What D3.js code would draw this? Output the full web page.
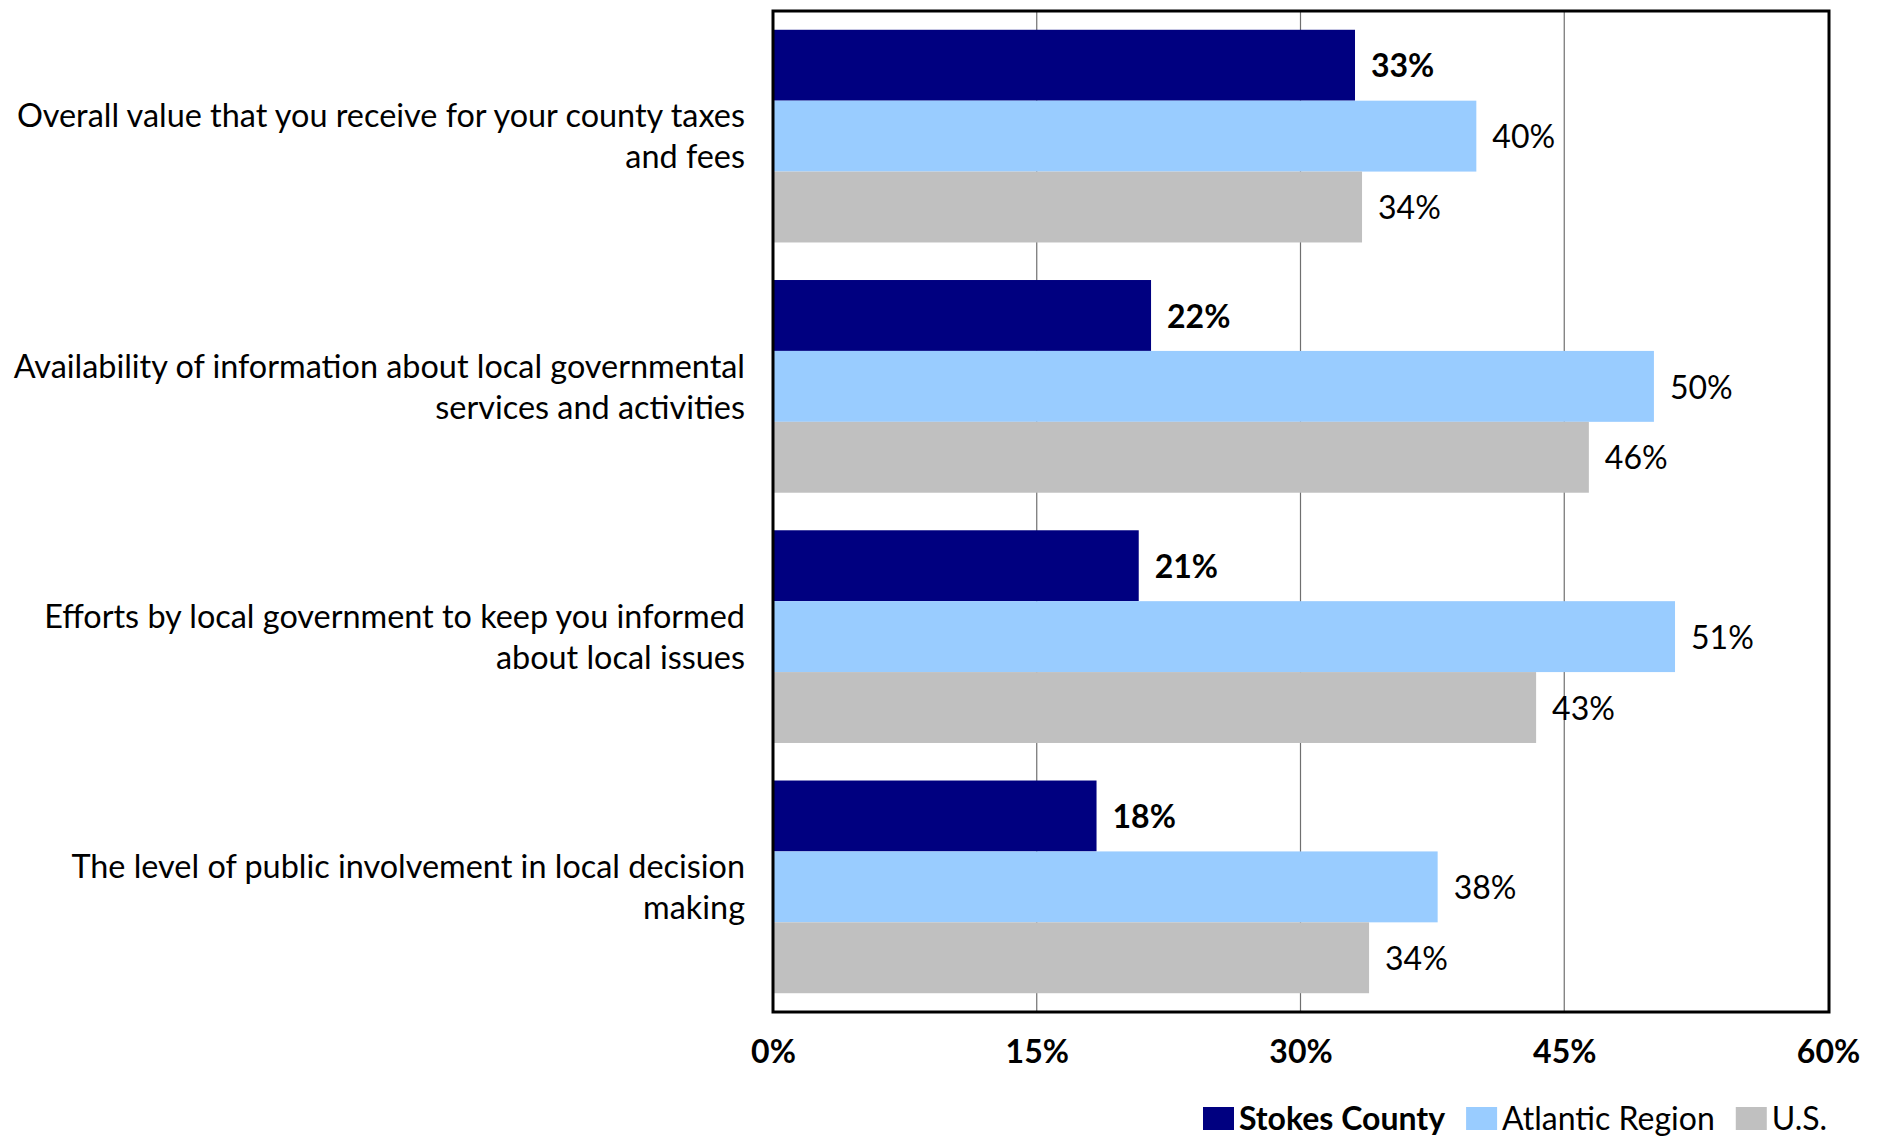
<!DOCTYPE html>
<html>
<head>
<meta charset="utf-8">
<script src="https://cdn.jsdelivr.net/npm/d3@7/dist/d3.min.js"></script>
<style>
  html, body { margin: 0; padding: 0; background: #fff; }
  svg { display: block; }
  text { font-family: Lato, "Open Sans", sans-serif; fill: #000; }
</style>
</head>
<body>
<svg id="chart" width="1885" height="1137"></svg>
<script>
// ---- data ----
const categories = [
  ["Overall value that you receive for your county taxes", "and fees"],
  ["Availability of information about local governmental", "services and activities"],
  ["Efforts by local government to keep you informed", "about local issues"],
  ["The level of public involvement in local decision", "making"]
];
const seriesNames = ["Stokes County", "Atlantic Region", "U.S."];
const stokesCounty = [33.1, 21.5, 20.8, 18.4];
const atlanticRegion = [40.0, 50.1, 51.3, 37.8];
const us = [33.5, 46.4, 43.4, 33.9];
const seriesValues = [stokesCounty, atlanticRegion, us];
const xTicks = [0, 15, 30, 45, 60];
const colors = ["#000080", "#99CCFF", "#C0C0C0"];

// ---- layout ----
const svg = d3.select("#chart");
const plot = { left: 773, right: 1828, top: 11, bottom: 1012 };
const FS = 32;
const CAT_FS = 32.4;

const x = d3.scaleLinear().domain([0, 60]).range([plot.left, plot.right]);
const y0 = d3.scaleBand().domain(d3.range(categories.length))
  .range([plot.top, plot.bottom]).paddingInner(0.15).paddingOuter(0.075);
const y1 = d3.scaleBand().domain(d3.range(seriesNames.length))
  .range([0, y0.bandwidth()]).padding(0);

// gridlines
svg.append("g").selectAll("line").data(xTicks.slice(1, -1)).join("line")
  .attr("x1", d => x(d)).attr("x2", d => x(d))
  .attr("y1", plot.top).attr("y2", plot.bottom)
  .attr("stroke", "#6f6f6f").attr("stroke-width", 1.2);

// bars
const groups = svg.append("g").selectAll("g").data(categories).join("g")
  .attr("transform", (d, i) => `translate(0,${y0(i)})`);

groups.each(function(cat, ci) {
  const g = d3.select(this);
  seriesValues.forEach((vals, si) => {
    const v = vals[ci];
    g.append("rect")
      .attr("x", x(0)).attr("y", y1(si))
      .attr("width", x(v) - x(0)).attr("height", y1.bandwidth())
      .attr("fill", colors[si]);
    g.append("text")
      .attr("x", x(v) + 16)
      .attr("y", y1(si) + y1.bandwidth() / 2)
      .attr("dy", "0.38em")
      .attr("font-size", FS)
      .attr("font-weight", si === 0 ? "bold" : "normal")
      .text(Math.round(v) + "%");
  });
});

// frame
svg.append("rect")
  .attr("x", plot.left).attr("y", plot.top)
  .attr("width", plot.right - plot.left + 1).attr("height", plot.bottom - plot.top)
  .attr("fill", "none").attr("stroke", "#000").attr("stroke-width", 3);

// x axis tick labels
const xAxis = d3.axisBottom(x).tickValues(xTicks).tickSize(0).tickPadding(0)
  .tickFormat(d => d + "%");
const ax = svg.append("g").attr("transform", `translate(0,${plot.bottom})`).call(xAxis);
ax.select(".domain").remove();
ax.selectAll("text")
  .attr("y", 51).attr("dy", 0)
  .attr("font-size", FS).attr("font-weight", "bold")
  .attr("font-family", "Lato, sans-serif").attr("fill", "#000");

// category labels
const lineGap = 41;
svg.append("g").selectAll("text").data(categories).join("text")
  .attr("text-anchor", "end")
  .attr("font-size", CAT_FS)
  .each(function(lines, i) {
    const c = y0(i) + y0.bandwidth() / 2;
    const t = d3.select(this);
    lines.forEach((ln, k) => {
      t.append("tspan")
        .attr("x", 745)
        .attr("y", c + (k - (lines.length - 1) / 2) * lineGap)
        .attr("dy", "0.36em")
        .text(ln);
    });
  });

// legend
const legend = svg.append("g");
let lx = 1203;
seriesNames.forEach((name, i) => {
  legend.append("rect").attr("x", lx).attr("y", 1107).attr("width", 31).attr("height", 23)
    .attr("fill", colors[i]);
  const t = legend.append("text").attr("x", lx + 36).attr("y", 1130)
    .attr("font-size", FS).attr("font-weight", i === 0 ? "bold" : "normal").text(name);
  lx += 36 + t.node().getComputedTextLength() + 21;
});
</script>
</body>
</html>
